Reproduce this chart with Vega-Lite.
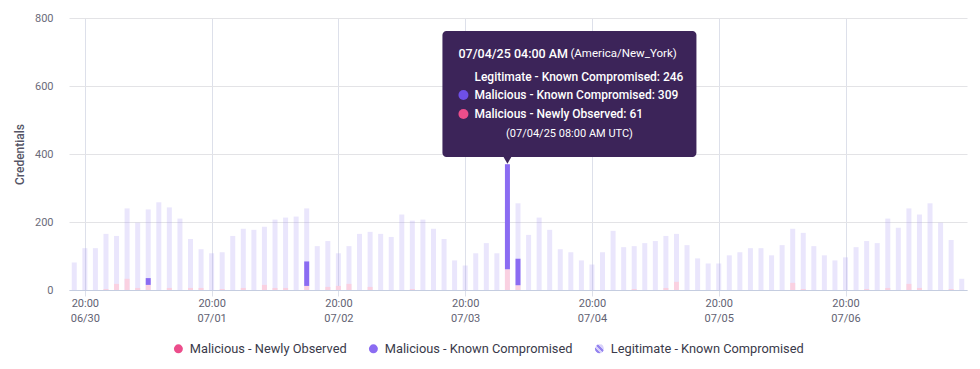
{
  "$schema": "https://vega.github.io/schema/vega-lite/v6.json",
  "width": 898,
  "height": 272,
  "autosize": {"type": "none"},
  "padding": {"left": 69, "top": 18, "right": 13, "bottom": 79},
  "background": "#ffffff",
  "config": {
    "view": {"stroke": null},
    "font": "Roboto",
    "axis": {"labelFont": "Roboto", "titleFont": "Roboto"},
    "legend": {"labelFont": "Roboto"}
  },
  "data": {
    "values": [
      {"t": "2025-06-30T18:00Z", "Legitimate - Known Compromised": 81, "Malicious - Known Compromised": 0, "Malicious - Newly Observed": 0},
      {"t": "2025-06-30T20:00Z", "Legitimate - Known Compromised": 123, "Malicious - Known Compromised": 0, "Malicious - Newly Observed": 0},
      {"t": "2025-06-30T22:00Z", "Legitimate - Known Compromised": 123, "Malicious - Known Compromised": 0, "Malicious - Newly Observed": 0},
      {"t": "2025-07-01T00:00Z", "Legitimate - Known Compromised": 165, "Malicious - Known Compromised": 0, "Malicious - Newly Observed": 3},
      {"t": "2025-07-01T02:00Z", "Legitimate - Known Compromised": 159, "Malicious - Known Compromised": 0, "Malicious - Newly Observed": 18},
      {"t": "2025-07-01T04:00Z", "Legitimate - Known Compromised": 240, "Malicious - Known Compromised": 0, "Malicious - Newly Observed": 33},
      {"t": "2025-07-01T06:00Z", "Legitimate - Known Compromised": 198, "Malicious - Known Compromised": 0, "Malicious - Newly Observed": 6},
      {"t": "2025-07-01T08:00Z", "Legitimate - Known Compromised": 237, "Malicious - Known Compromised": 20, "Malicious - Newly Observed": 15},
      {"t": "2025-07-01T10:00Z", "Legitimate - Known Compromised": 258, "Malicious - Known Compromised": 0, "Malicious - Newly Observed": 0},
      {"t": "2025-07-01T12:00Z", "Legitimate - Known Compromised": 243, "Malicious - Known Compromised": 0, "Malicious - Newly Observed": 6},
      {"t": "2025-07-01T14:00Z", "Legitimate - Known Compromised": 210, "Malicious - Known Compromised": 0, "Malicious - Newly Observed": 0},
      {"t": "2025-07-01T16:00Z", "Legitimate - Known Compromised": 150, "Malicious - Known Compromised": 0, "Malicious - Newly Observed": 6},
      {"t": "2025-07-01T18:00Z", "Legitimate - Known Compromised": 120, "Malicious - Known Compromised": 0, "Malicious - Newly Observed": 6},
      {"t": "2025-07-01T20:00Z", "Legitimate - Known Compromised": 108, "Malicious - Known Compromised": 0, "Malicious - Newly Observed": 0},
      {"t": "2025-07-01T22:00Z", "Legitimate - Known Compromised": 111, "Malicious - Known Compromised": 0, "Malicious - Newly Observed": 3},
      {"t": "2025-07-02T00:00Z", "Legitimate - Known Compromised": 159, "Malicious - Known Compromised": 0, "Malicious - Newly Observed": 0},
      {"t": "2025-07-02T02:00Z", "Legitimate - Known Compromised": 180, "Malicious - Known Compromised": 0, "Malicious - Newly Observed": 6},
      {"t": "2025-07-02T04:00Z", "Legitimate - Known Compromised": 177, "Malicious - Known Compromised": 0, "Malicious - Newly Observed": 0},
      {"t": "2025-07-02T06:00Z", "Legitimate - Known Compromised": 186, "Malicious - Known Compromised": 0, "Malicious - Newly Observed": 15},
      {"t": "2025-07-02T08:00Z", "Legitimate - Known Compromised": 207, "Malicious - Known Compromised": 0, "Malicious - Newly Observed": 6},
      {"t": "2025-07-02T10:00Z", "Legitimate - Known Compromised": 213, "Malicious - Known Compromised": 0, "Malicious - Newly Observed": 6},
      {"t": "2025-07-02T12:00Z", "Legitimate - Known Compromised": 216, "Malicious - Known Compromised": 0, "Malicious - Newly Observed": 0},
      {"t": "2025-07-02T14:00Z", "Legitimate - Known Compromised": 240, "Malicious - Known Compromised": 72, "Malicious - Newly Observed": 12},
      {"t": "2025-07-02T16:00Z", "Legitimate - Known Compromised": 129, "Malicious - Known Compromised": 0, "Malicious - Newly Observed": 0},
      {"t": "2025-07-02T18:00Z", "Legitimate - Known Compromised": 144, "Malicious - Known Compromised": 0, "Malicious - Newly Observed": 9},
      {"t": "2025-07-02T20:00Z", "Legitimate - Known Compromised": 108, "Malicious - Known Compromised": 0, "Malicious - Newly Observed": 12},
      {"t": "2025-07-02T22:00Z", "Legitimate - Known Compromised": 129, "Malicious - Known Compromised": 0, "Malicious - Newly Observed": 18},
      {"t": "2025-07-03T00:00Z", "Legitimate - Known Compromised": 165, "Malicious - Known Compromised": 0, "Malicious - Newly Observed": 0},
      {"t": "2025-07-03T02:00Z", "Legitimate - Known Compromised": 171, "Malicious - Known Compromised": 0, "Malicious - Newly Observed": 9},
      {"t": "2025-07-03T04:00Z", "Legitimate - Known Compromised": 165, "Malicious - Known Compromised": 0, "Malicious - Newly Observed": 0},
      {"t": "2025-07-03T06:00Z", "Legitimate - Known Compromised": 156, "Malicious - Known Compromised": 0, "Malicious - Newly Observed": 0},
      {"t": "2025-07-03T08:00Z", "Legitimate - Known Compromised": 222, "Malicious - Known Compromised": 0, "Malicious - Newly Observed": 0},
      {"t": "2025-07-03T10:00Z", "Legitimate - Known Compromised": 204, "Malicious - Known Compromised": 0, "Malicious - Newly Observed": 3},
      {"t": "2025-07-03T12:00Z", "Legitimate - Known Compromised": 207, "Malicious - Known Compromised": 0, "Malicious - Newly Observed": 0},
      {"t": "2025-07-03T14:00Z", "Legitimate - Known Compromised": 180, "Malicious - Known Compromised": 0, "Malicious - Newly Observed": 0},
      {"t": "2025-07-03T16:00Z", "Legitimate - Known Compromised": 150, "Malicious - Known Compromised": 0, "Malicious - Newly Observed": 0},
      {"t": "2025-07-03T18:00Z", "Legitimate - Known Compromised": 87, "Malicious - Known Compromised": 0, "Malicious - Newly Observed": 0},
      {"t": "2025-07-03T20:00Z", "Legitimate - Known Compromised": 72, "Malicious - Known Compromised": 0, "Malicious - Newly Observed": 0},
      {"t": "2025-07-03T22:00Z", "Legitimate - Known Compromised": 108, "Malicious - Known Compromised": 0, "Malicious - Newly Observed": 0},
      {"t": "2025-07-04T00:00Z", "Legitimate - Known Compromised": 138, "Malicious - Known Compromised": 0, "Malicious - Newly Observed": 0},
      {"t": "2025-07-04T02:00Z", "Legitimate - Known Compromised": 108, "Malicious - Known Compromised": 0, "Malicious - Newly Observed": 0},
      {"t": "2025-07-04T04:00Z", "Legitimate - Known Compromised": 246, "Malicious - Known Compromised": 309, "Malicious - Newly Observed": 61},
      {"t": "2025-07-04T06:00Z", "Legitimate - Known Compromised": 255, "Malicious - Known Compromised": 78, "Malicious - Newly Observed": 14},
      {"t": "2025-07-04T08:00Z", "Legitimate - Known Compromised": 162, "Malicious - Known Compromised": 0, "Malicious - Newly Observed": 0},
      {"t": "2025-07-04T10:00Z", "Legitimate - Known Compromised": 213, "Malicious - Known Compromised": 0, "Malicious - Newly Observed": 0},
      {"t": "2025-07-04T12:00Z", "Legitimate - Known Compromised": 177, "Malicious - Known Compromised": 0, "Malicious - Newly Observed": 0},
      {"t": "2025-07-04T14:00Z", "Legitimate - Known Compromised": 120, "Malicious - Known Compromised": 0, "Malicious - Newly Observed": 0},
      {"t": "2025-07-04T16:00Z", "Legitimate - Known Compromised": 111, "Malicious - Known Compromised": 0, "Malicious - Newly Observed": 0},
      {"t": "2025-07-04T18:00Z", "Legitimate - Known Compromised": 87, "Malicious - Known Compromised": 0, "Malicious - Newly Observed": 0},
      {"t": "2025-07-04T20:00Z", "Legitimate - Known Compromised": 75, "Malicious - Known Compromised": 0, "Malicious - Newly Observed": 0},
      {"t": "2025-07-04T22:00Z", "Legitimate - Known Compromised": 111, "Malicious - Known Compromised": 0, "Malicious - Newly Observed": 0},
      {"t": "2025-07-05T00:00Z", "Legitimate - Known Compromised": 174, "Malicious - Known Compromised": 0, "Malicious - Newly Observed": 0},
      {"t": "2025-07-05T02:00Z", "Legitimate - Known Compromised": 126, "Malicious - Known Compromised": 0, "Malicious - Newly Observed": 0},
      {"t": "2025-07-05T04:00Z", "Legitimate - Known Compromised": 129, "Malicious - Known Compromised": 0, "Malicious - Newly Observed": 3},
      {"t": "2025-07-05T06:00Z", "Legitimate - Known Compromised": 138, "Malicious - Known Compromised": 0, "Malicious - Newly Observed": 0},
      {"t": "2025-07-05T08:00Z", "Legitimate - Known Compromised": 144, "Malicious - Known Compromised": 0, "Malicious - Newly Observed": 0},
      {"t": "2025-07-05T10:00Z", "Legitimate - Known Compromised": 159, "Malicious - Known Compromised": 0, "Malicious - Newly Observed": 6},
      {"t": "2025-07-05T12:00Z", "Legitimate - Known Compromised": 165, "Malicious - Known Compromised": 0, "Malicious - Newly Observed": 24},
      {"t": "2025-07-05T14:00Z", "Legitimate - Known Compromised": 132, "Malicious - Known Compromised": 0, "Malicious - Newly Observed": 0},
      {"t": "2025-07-05T16:00Z", "Legitimate - Known Compromised": 93, "Malicious - Known Compromised": 0, "Malicious - Newly Observed": 0},
      {"t": "2025-07-05T18:00Z", "Legitimate - Known Compromised": 78, "Malicious - Known Compromised": 0, "Malicious - Newly Observed": 0},
      {"t": "2025-07-05T20:00Z", "Legitimate - Known Compromised": 78, "Malicious - Known Compromised": 0, "Malicious - Newly Observed": 0},
      {"t": "2025-07-05T22:00Z", "Legitimate - Known Compromised": 102, "Malicious - Known Compromised": 0, "Malicious - Newly Observed": 0},
      {"t": "2025-07-06T00:00Z", "Legitimate - Known Compromised": 111, "Malicious - Known Compromised": 0, "Malicious - Newly Observed": 0},
      {"t": "2025-07-06T02:00Z", "Legitimate - Known Compromised": 123, "Malicious - Known Compromised": 0, "Malicious - Newly Observed": 0},
      {"t": "2025-07-06T04:00Z", "Legitimate - Known Compromised": 123, "Malicious - Known Compromised": 0, "Malicious - Newly Observed": 0},
      {"t": "2025-07-06T06:00Z", "Legitimate - Known Compromised": 102, "Malicious - Known Compromised": 0, "Malicious - Newly Observed": 0},
      {"t": "2025-07-06T08:00Z", "Legitimate - Known Compromised": 132, "Malicious - Known Compromised": 0, "Malicious - Newly Observed": 0},
      {"t": "2025-07-06T10:00Z", "Legitimate - Known Compromised": 180, "Malicious - Known Compromised": 0, "Malicious - Newly Observed": 21},
      {"t": "2025-07-06T12:00Z", "Legitimate - Known Compromised": 168, "Malicious - Known Compromised": 0, "Malicious - Newly Observed": 3},
      {"t": "2025-07-06T14:00Z", "Legitimate - Known Compromised": 129, "Malicious - Known Compromised": 0, "Malicious - Newly Observed": 0},
      {"t": "2025-07-06T16:00Z", "Legitimate - Known Compromised": 102, "Malicious - Known Compromised": 0, "Malicious - Newly Observed": 0},
      {"t": "2025-07-06T18:00Z", "Legitimate - Known Compromised": 87, "Malicious - Known Compromised": 0, "Malicious - Newly Observed": 0},
      {"t": "2025-07-06T20:00Z", "Legitimate - Known Compromised": 96, "Malicious - Known Compromised": 0, "Malicious - Newly Observed": 0},
      {"t": "2025-07-06T22:00Z", "Legitimate - Known Compromised": 126, "Malicious - Known Compromised": 0, "Malicious - Newly Observed": 0},
      {"t": "2025-07-07T00:00Z", "Legitimate - Known Compromised": 144, "Malicious - Known Compromised": 0, "Malicious - Newly Observed": 3},
      {"t": "2025-07-07T02:00Z", "Legitimate - Known Compromised": 138, "Malicious - Known Compromised": 0, "Malicious - Newly Observed": 0},
      {"t": "2025-07-07T04:00Z", "Legitimate - Known Compromised": 210, "Malicious - Known Compromised": 0, "Malicious - Newly Observed": 6},
      {"t": "2025-07-07T06:00Z", "Legitimate - Known Compromised": 183, "Malicious - Known Compromised": 0, "Malicious - Newly Observed": 0},
      {"t": "2025-07-07T08:00Z", "Legitimate - Known Compromised": 240, "Malicious - Known Compromised": 0, "Malicious - Newly Observed": 18},
      {"t": "2025-07-07T10:00Z", "Legitimate - Known Compromised": 222, "Malicious - Known Compromised": 0, "Malicious - Newly Observed": 6},
      {"t": "2025-07-07T12:00Z", "Legitimate - Known Compromised": 255, "Malicious - Known Compromised": 0, "Malicious - Newly Observed": 0},
      {"t": "2025-07-07T14:00Z", "Legitimate - Known Compromised": 198, "Malicious - Known Compromised": 0, "Malicious - Newly Observed": 0},
      {"t": "2025-07-07T16:00Z", "Legitimate - Known Compromised": 147, "Malicious - Known Compromised": 0, "Malicious - Newly Observed": 3},
      {"t": "2025-07-07T18:00Z", "Legitimate - Known Compromised": 33, "Malicious - Known Compromised": 0, "Malicious - Newly Observed": 0}
    ]
  },
  "layer": [
    {
      "mark": {"type": "bar", "width": 5, "color": "#a797f3", "fillOpacity": 0.24},
      "encoding": {
        "x": {
          "field": "t",
          "type": "temporal",
          "scale": {
            "type": "utc",
            "nice": false,
            "padding": 0,
            "domain": [
              {"year": 2025, "month": 6, "date": 30, "hours": 17, "utc": true},
              {"year": 2025, "month": 7, "date": 7, "hours": 19, "utc": true}
            ]
          },
          "axis": {
            "title": null,
            "values": [
              {"year": 2025, "month": 6, "date": 30, "hours": 20, "utc": true},
              {"year": 2025, "month": 7, "date": 1, "hours": 20, "utc": true},
              {"year": 2025, "month": 7, "date": 2, "hours": 20, "utc": true},
              {"year": 2025, "month": 7, "date": 3, "hours": 20, "utc": true},
              {"year": 2025, "month": 7, "date": 4, "hours": 20, "utc": true},
              {"year": 2025, "month": 7, "date": 5, "hours": 20, "utc": true},
              {"year": 2025, "month": 7, "date": 6, "hours": 20, "utc": true}
            ],
            "labelExpr": "[utcFormat(datum.value, '%H:%M'), utcFormat(datum.value, '%m/%d')]",
            "grid": true,
            "gridColor": "#dde0ea",
            "tickColor": "#dde0ea",
            "tickSize": 6,
            "domainColor": "#c5cde0",
            "labelColor": "#626272",
            "labelFontSize": 11,
            "labelPadding": 1,
            "labelLineHeight": 15,
            "labelFlush": false,
            "labelOverlap": false
          }
        },
        "y": {
          "field": "Legitimate - Known Compromised",
          "type": "quantitative",
          "scale": {"domain": [0, 800], "nice": false},
          "axis": {
            "title": "Credentials",
            "values": [0, 200, 400, 600, 800],
            "grid": true,
            "gridColor": "#e3e3e6",
            "domain": false,
            "ticks": false,
            "tickSize": 0,
            "labelPadding": 16,
            "labelColor": "#6b6b7a",
            "labelFontSize": 11,
            "titleColor": "#555566",
            "titleFontSize": 12,
            "titleFontWeight": 500,
            "titlePadding": 8
          }
        }
      }
    },
    {
      "mark": {"type": "bar", "width": 5, "color": "#ffffff", "opacity": 1},
      "encoding": {
        "x": {"field": "t", "type": "temporal"},
        "y": {"field": "Malicious - Newly Observed", "type": "quantitative"}
      }
    },
    {
      "transform": [{"fold": ["Malicious - Newly Observed", "Malicious - Known Compromised", "Legitimate - Known Compromised"], "as": ["series", "count"]}],
      "mark": {"type": "bar", "width": 5},
      "encoding": {
        "x": {"field": "t", "type": "temporal"},
        "y": {"field": "count", "type": "quantitative", "stack": "zero"},
        "color": {
          "field": "series",
          "type": "nominal",
          "scale": {
            "domain": ["Malicious - Newly Observed", "Malicious - Known Compromised", "Legitimate - Known Compromised"],
            "range": ["#ec4d8b", "#8b6cf2", {"expr": "{gradient: 'linear', x1: 0, y1: 1, x2: 1, y2: 0, stops: [{offset: 0, color: '#d8d1fb'}, {offset: 0.17, color: '#d8d1fb'}, {offset: 0.17, color: '#9483ef'}, {offset: 0.33, color: '#9483ef'}, {offset: 0.33, color: '#d8d1fb'}, {offset: 0.5, color: '#d8d1fb'}, {offset: 0.5, color: '#9483ef'}, {offset: 0.67, color: '#9483ef'}, {offset: 0.67, color: '#d8d1fb'}, {offset: 0.83, color: '#d8d1fb'}, {offset: 0.83, color: '#9483ef'}, {offset: 1, color: '#9483ef'}]}"}]
          },
          "legend": {
            "title": null,
            "orient": "none",
            "legendX": 103,
            "legendY": 324,
            "direction": "horizontal",
            "symbolType": "circle",
            "symbolSize": 80,
            "symbolStrokeWidth": 0,
            "symbolOpacity": 1,
            "labelFontSize": 12.8,
            "labelColor": "#3a3a4a",
            "labelOffset": 5,
            "labelLimit": 400,
            "columnPadding": 20,
            "padding": 0
          }
        },
        "order": {"field": "series", "sort": "descending"},
        "fillOpacity": {
          "condition": [
            {"test": "datum.series === 'Malicious - Newly Observed'", "value": 0.26},
            {"test": "datum.series === 'Legitimate - Known Compromised'", "value": 0}
          ],
          "value": 1
        }
      }
    },
    {
      "transform": [{"filter": "time(datum.t) === time('2025-07-04T04:00Z')"}],
      "encoding": {
        "x": {"field": "t", "type": "temporal"},
        "y": {"field": "Malicious - Known Compromised", "type": "quantitative"}
      },
      "layer": [
        {
          "mark": {"type": "rect", "color": "#3c2459", "cornerRadius": 4, "xOffset": -65, "x2Offset": 189, "yOffset": -154, "y2Offset": -28},
          "encoding": {"x2": {"field": "t"}, "y2": {"field": "Malicious - Known Compromised"}}
        },
        {
          "mark": {"type": "point", "shape": "triangle-down", "filled": true, "color": "#3c2459", "opacity": 1, "size": 80, "yOffset": -25}
        },
        {
          "mark": {"type": "text", "align": "left", "baseline": "middle", "dx": -49, "dy": -131, "color": "#ffffff", "font": "Roboto", "fontSize": 12.5, "fontWeight": 500, "text": {"expr": "utcFormat(datum.t, '%m/%d/%y %I:%M %p')"}}
        },
        {
          "mark": {"type": "text", "align": "left", "baseline": "middle", "dx": 63, "dy": -131, "color": "#ffffff", "font": "Roboto", "fontSize": 11.5, "text": "(America/New_York)"}
        },
        {
          "mark": {"type": "text", "align": "left", "baseline": "middle", "dx": -33, "dy": -108, "color": "#ffffff", "font": "Roboto", "fontSize": 12, "fontWeight": 500, "text": {"expr": "'Legitimate - Known Compromised: ' + datum['Legitimate - Known Compromised']"}}
        },
        {
          "mark": {"type": "point", "shape": "circle", "filled": true, "color": "#6e4fe6", "opacity": 1, "size": 100, "xOffset": -44, "yOffset": -90}
        },
        {
          "mark": {"type": "text", "align": "left", "baseline": "middle", "dx": -33, "dy": -90, "color": "#ffffff", "font": "Roboto", "fontSize": 12, "fontWeight": 500, "text": {"expr": "'Malicious - Known Compromised: ' + datum['Malicious - Known Compromised']"}}
        },
        {
          "mark": {"type": "point", "shape": "circle", "filled": true, "color": "#ec4d8b", "opacity": 1, "size": 100, "xOffset": -44, "yOffset": -71}
        },
        {
          "mark": {"type": "text", "align": "left", "baseline": "middle", "dx": -33, "dy": -71, "color": "#ffffff", "font": "Roboto", "fontSize": 12, "fontWeight": 500, "text": {"expr": "'Malicious - Newly Observed: ' + datum['Malicious - Newly Observed']"}}
        },
        {
          "mark": {"type": "text", "align": "center", "baseline": "middle", "dx": 62, "dy": -51, "color": "#ffffff", "font": "Roboto", "fontSize": 11, "text": {"expr": "utcFormat(time(datum.t) + 4 * 3600000, '(%m/%d/%y %I:%M %p UTC)')"}}
        }
      ]
    }
  ]
}
